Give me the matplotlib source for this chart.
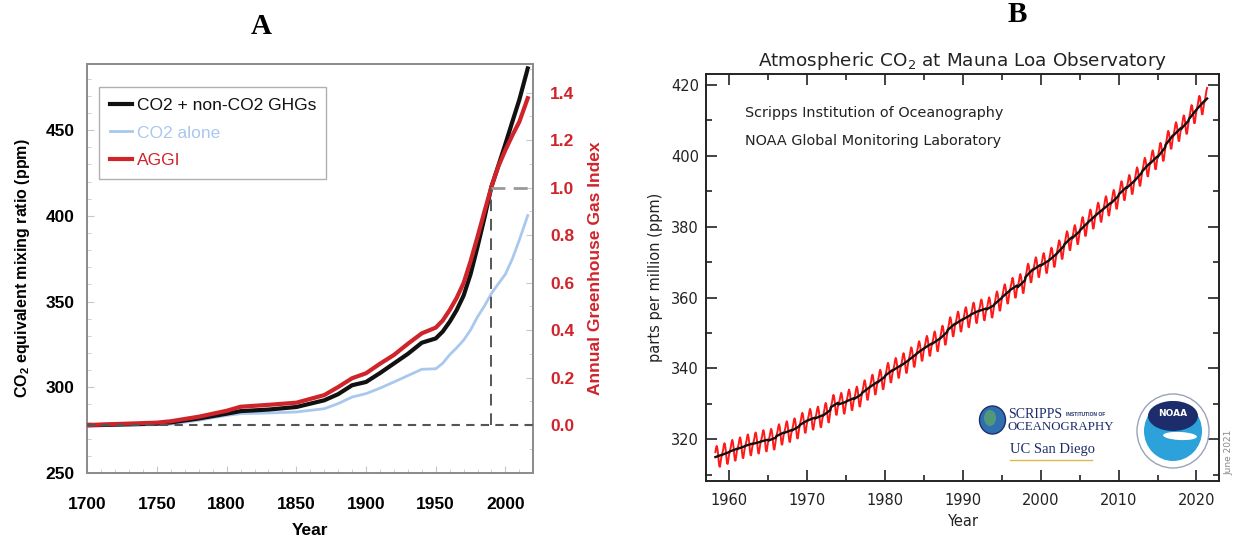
import numpy as np
import matplotlib
matplotlib.use("Agg")
import matplotlib.pyplot as plt
from matplotlib.patches import Ellipse
from matplotlib.lines import Line2D

plt.rcParams['mathtext.fontset'] = 'custom'
plt.rcParams['mathtext.rm'] = 'Liberation Sans'
plt.rcParams['mathtext.bf'] = 'Liberation Sans:bold'
plt.rcParams['mathtext.sf'] = 'DejaVu Sans'

# ---------------- Panel A data ----------------
years_a = [1700, 1750, 1760, 1780, 1800, 1810, 1830, 1850, 1870, 1880, 1890, 1900,
           1910, 1920, 1930, 1940, 1950, 1955, 1960, 1965, 1970, 1975, 1980, 1985,
           1990, 1995, 2000, 2005, 2010, 2016]
co2eq = [277.8, 278.8, 279.5, 281.8, 284.6, 286.1, 287.0, 288.5, 292.4, 296.0, 301.2, 303.1,
         308.3, 313.9, 319.5, 326.0, 328.5, 332.5, 338.2, 345.0, 353.5, 366.0, 382.0, 399.0,
         417.1, 429.5, 442.0, 455.0, 467.8, 486.0]
co2_alone = [277.8, 278.2, 278.5, 280.8, 283.6, 284.6, 285.0, 285.6, 287.5, 290.5, 294.3, 296.3,
             299.5, 303.1, 306.8, 310.5, 310.8, 314.0, 319.0, 323.0, 327.5, 333.5, 341.1, 347.5,
             354.8, 360.5, 366.0, 375.0, 386.0, 400.2]
aggi = [0.0, 0.010, 0.016, 0.035, 0.060, 0.077, 0.085, 0.094, 0.126, 0.160, 0.197, 0.218,
        0.258, 0.295, 0.342, 0.386, 0.410, 0.440, 0.484, 0.535, 0.598, 0.690, 0.793, 0.900,
        1.004, 1.090, 1.158, 1.220, 1.277, 1.376]
ref_year = 1990
labels_a = ["CO2 + non-CO2 GHGs", "CO2 alone", "AGGI"]

# ---------------- Panel B data ----------------
years_b = list(range(1958, 2022))
annual_ppm = [315.2, 315.98, 316.91, 317.64, 318.45, 318.99, 319.62, 320.04, 321.37, 322.18,
              323.05, 324.62, 325.68, 326.32, 327.46, 329.68, 330.19, 331.13, 332.03, 333.84,
              335.41, 336.84, 338.76, 340.12, 341.48, 343.15, 344.87, 346.35, 347.61, 349.31,
              351.69, 353.20, 354.45, 355.70, 356.54, 357.21, 358.96, 360.97, 362.74, 363.88,
              366.84, 368.54, 369.71, 371.32, 373.45, 375.98, 377.70, 379.98, 382.09, 384.02,
              385.83, 387.64, 390.10, 391.85, 394.06, 396.74, 398.81, 401.01, 404.41, 406.76,
              408.72, 411.66, 414.24, 416.45]
seasonal = [-0.1, 0.6, 1.4, 2.5, 3.0, 2.3, 0.8, -1.3, -3.0, -3.2, -1.9, -0.8]
first_month = 2   # March 1958
last_month = 4    # May 2021

# ---- build monthly series from annual means + seasonal cycle ----
ann = np.array(annual_ppm)
growth = np.gradient(ann)
t_list, red_list, blk_list = [], [], []
for i, y in enumerate(years_b):
    m0 = first_month if i == 0 else 0
    m1 = last_month if i == len(years_b) - 1 else 11
    for m in range(m0, m1 + 1):
        t = y + (m + 0.5) / 12.0
        trend = ann[i] + growth[i] * (t - (y + 0.5))
        t_list.append(t)
        blk_list.append(trend)
        red_list.append(trend + seasonal[m])
t_arr = np.array(t_list)

fig = plt.figure(figsize=(12.33, 5.43), dpi=100)
W, H = 1233.0, 543.0

# ================= Panel A =================
grey = '#8c8c8c'
red_a = '#d0242b'
blue_a = '#a9c8ee'
axA = fig.add_axes([87.3 / W, 1 - 473 / H, 446 / W, 409 / H])
axA.set_xlim(1700, 2020)
axA.set_ylim(250, 488.6)
axR = axA.twinx()
axR.set_ylim(-0.202, 1.52)

lb, = axA.plot(years_a, co2_alone, color=blue_a, lw=2.0, zorder=2)
lk, = axA.plot(years_a, co2eq, color='#111111', lw=3.0, zorder=3)
lr, = axR.plot(years_a, aggi, color=red_a, lw=3.0, zorder=3)
axR.plot([1700, 2020], [0, 0], ls=(0, (4, 3)), color='#555555', lw=1.5, zorder=5)
axR.plot([ref_year, ref_year], [0, 1.0], ls=(0, (6, 4)), color='#555555', lw=1.4, zorder=5)
axR.plot([ref_year, 2020], [1.0, 1.0], ls=(0, (5, 3)), color='#999999', lw=2.0, zorder=5)

for sp in list(axA.spines.values()) + list(axR.spines.values()):
    sp.set_color(grey)
    sp.set_linewidth(1.3)

axA.set_xticks([1700, 1750, 1800, 1850, 1900, 1950, 2000])
axA.set_xticks(np.arange(1700, 2021, 10), minor=True)
axA.set_yticks([250, 300, 350, 400, 450])
axA.set_yticks(np.arange(250, 489, 10), minor=True)
axR.set_yticks([0.0, 0.2, 0.4, 0.6, 0.8, 1.0, 1.2, 1.4])
axR.set_yticks(np.arange(-0.2, 1.51, 0.1), minor=True)
axR.set_yticklabels(['%.1f' % v for v in [0.0, 0.2, 0.4, 0.6, 0.8, 1.0, 1.2, 1.4]])

tfA = dict(family='Liberation Sans', weight='bold', size=12.5)
for lab in axA.get_xticklabels() + axA.get_yticklabels():
    lab.set_fontproperties(matplotlib.font_manager.FontProperties(**tfA))
for lab in axR.get_yticklabels():
    lab.set_fontproperties(matplotlib.font_manager.FontProperties(**tfA))
    lab.set_color(red_a)
axA.tick_params(axis='both', which='both', direction='in', color='#c8c8c8')
axA.tick_params(axis='x', which='major', length=5, pad=17)
axA.tick_params(axis='y', which='major', length=5, pad=9)
axA.tick_params(which='minor', length=3)
axR.tick_params(axis='y', which='both', direction='in', color='#c8c8c8', labelcolor=red_a)
axR.tick_params(axis='y', which='major', length=5, pad=12)
axR.tick_params(axis='y', which='minor', length=3)

axA.set_ylabel('CO$_\\mathbf{2}$ equivalent mixing ratio (ppm)', family='Liberation Sans',
               weight='bold', size=11.5, labelpad=10)
axR.set_ylabel('Annual Greenhouse Gas Index', family='Liberation Sans', weight='bold',
               size=12.5, color=red_a, labelpad=10)
axA.set_xlabel('Year', family='Liberation Sans', weight='bold', size=12.5, labelpad=8)

leg = axR.legend([lk, lb, lr], labels_a, loc='upper left', bbox_to_anchor=(0.027, 0.943),
                 borderaxespad=0, prop=dict(family='Liberation Sans', size=12.5),
                 handlelength=1.3, handletextpad=0.25, labelspacing=0.72,
                 fancybox=False, framealpha=1, edgecolor='#b0b0b0', borderpad=0.6)
leg.get_frame().set_linewidth(1.0)
for txt, c in zip(leg.get_texts(), ['#111111', blue_a, red_a]):
    txt.set_color(c)

fig.text(261 / W, 1 - 27 / H, 'A', family='Liberation Serif', weight='bold', size=21,
         ha='center', va='center')

# ================= Panel B =================
axB = fig.add_axes([706 / W, 1 - 480.7 / H, 513 / W, 406.7 / H])
axB.set_xlim(1957.0, 2022.9)
axB.set_ylim(308.3, 423.1)
axB.plot(t_arr, red_list, color='#ff1a1a', lw=1.4, zorder=2)
axB.plot(t_arr, blk_list, color='#111111', lw=1.7, zorder=3)
for sp in axB.spines.values():
    sp.set_color('#222222')
    sp.set_linewidth(1.4)
axB.set_xticks(np.arange(1960, 2021, 10))
axB.set_xticks(np.arange(1960, 2023, 5), minor=True)
axB.set_yticks(np.arange(320, 421, 20))
axB.set_yticks(np.arange(310, 423, 10), minor=True)
axB.tick_params(which='both', direction='in', top=True, right=True, color='#222222', width=1.2,
                labelsize=10.5, labelcolor='#222222')
axB.tick_params(which='major', length=8)
axB.tick_params(which='minor', length=4)
axB.tick_params(axis='x', pad=9)
axB.tick_params(axis='y', pad=5)
fB = 'DejaVu Sans'
axB.set_title('Atmospheric CO$_\\mathsf{2}$ at Mauna Loa Observatory', family=fB, size=13.2,
              pad=6, color='#222222')
axB.set_ylabel('parts per million (ppm)', family=fB, size=10.5, labelpad=6, color='#222222')
axB.set_xlabel('Year', family=fB, size=10.5, labelpad=4, color='#222222')
axB.text((744.7 - 706) / 513, (480.7 - 112.8) / 406.7, 'Scripps Institution of Oceanography',
         transform=axB.transAxes, family=fB, size=10.4, va='center', ha='left', color='#222222')
axB.text((744.7 - 706) / 513, (480.7 - 140.6) / 406.7, 'NOAA Global Monitoring Laboratory',
         transform=axB.transAxes, family=fB, size=10.4, va='center', ha='left', color='#222222')

# logos (simple drawn approximations)
def fx(px):
    return px / W
def fy(py):
    return 1 - py / H
navy = '#1d2d6b'
fig.patches.append(Ellipse((fx(992.5), fy(420)), 26 / W, 28 / H, transform=fig.transFigure,
                           facecolor='#2f6fb0', edgecolor='#1d2d6b', lw=1.0))
fig.patches.append(Ellipse((fx(990), fy(418)), 12 / W, 16 / H, transform=fig.transFigure,
                           facecolor='#5aa36a', edgecolor='none', alpha=0.8))
fig.text(fx(1008), fy(415), 'SCRIPPS', family='Liberation Serif', size=10, color=navy,
         va='center', ha='left')
fig.text(fx(1066), fy(414), 'INSTITUTION OF', family='Liberation Sans', weight='bold', size=3.6,
         color=navy, va='center', ha='left')
fig.text(fx(1008), fy(427.5), 'OCEANOGRAPHY', family='Liberation Serif', size=9.3, color=navy,
         va='center', ha='left')
fig.text(fx(1010), fy(450), 'UC San Diego', family='Liberation Serif', size=10.5, color=navy,
         va='center', ha='left')
fig.lines.append(Line2D([fx(1010), fx(1092)], [fy(459.5), fy(459.5)], transform=fig.transFigure,
                        color='#e0b84a', lw=1.0))
# NOAA emblem
fig.patches.append(Ellipse((fx(1173), fy(431)), 72 / W, 74 / H, transform=fig.transFigure,
                           facecolor='white', edgecolor='#9aa3b5', lw=1.0))
fig.patches.append(Ellipse((fx(1173), fy(431)), 58 / W, 60 / H, transform=fig.transFigure,
                           facecolor='#2da1da', edgecolor='none'))
fig.patches.append(Ellipse((fx(1173), fy(416)), 50 / W, 30 / H, transform=fig.transFigure,
                           facecolor=navy, edgecolor='none'))
fig.patches.append(Ellipse((fx(1180), fy(436)), 34 / W, 8 / H, transform=fig.transFigure,
                           facecolor='white', edgecolor='none', angle=-8))
fig.text(fx(1173), fy(413), 'NOAA', family='DejaVu Sans', weight='bold', size=6.5,
         color='white', va='center', ha='center')
fig.text(fx(1229), fy(452), 'June 2021', family=fB, size=6.5, color='#888888', rotation=90,
         va='center', ha='center')

fig.text(1017 / W, 1 - 15 / H, 'B', family='Liberation Serif', weight='bold', size=21,
         ha='center', va='center')

fig.savefig('out.png', dpi=100)
